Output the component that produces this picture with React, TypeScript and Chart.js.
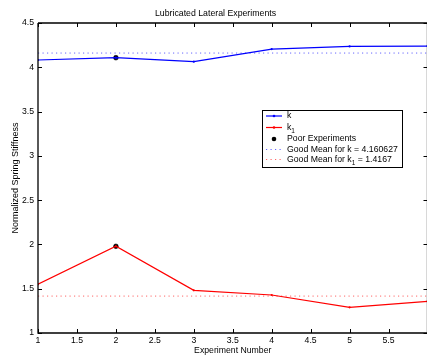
import React, { useEffect, useRef } from "react";
import { Chart, registerables } from "chart.js";

Chart.register(...registerables);

const experiments = [1, 2, 3, 4, 5, 6];
const kValues = [4.082, 4.108, 4.063, 4.206, 4.236, 4.24];
const k1Values = [1.55, 1.979, 1.482, 1.429, 1.29, 1.356];
const poorX = [2, 2];
const poorY = [4.108, 1.979];
const meanK = 4.160627;
const meanK1 = 1.4167;
const xTicks = [1, 1.5, 2, 2.5, 3, 3.5, 4, 4.5, 5, 5.5];
const yTicks = [1, 1.5, 2, 2.5, 3, 3.5, 4, 4.5];

const FONT = "'Liberation Sans', Arial, Helvetica, sans-serif";

const axesPlugin = {
  id: "matlabAxes",
  afterDatasetsDraw(chart: any) {
    const { ctx, chartArea, scales } = chart;
    const { left, right, top, bottom } = chartArea;
    ctx.save();
    ctx.strokeStyle = "#000";
    ctx.lineWidth = 1.3;
    ctx.beginPath();
    ctx.moveTo(left, top);
    ctx.lineTo(left, bottom);
    ctx.lineTo(right, bottom);
    ctx.lineTo(right, top);
    ctx.lineTo(left, top);
    ctx.stroke();
    ctx.lineWidth = 1;
    const tl = 4;
    ctx.beginPath();
    for (const v of xTicks) {
      const px = Math.round(scales.x.getPixelForValue(v)) + 0.5;
      ctx.moveTo(px, bottom);
      ctx.lineTo(px, bottom - tl);
      ctx.moveTo(px, top);
      ctx.lineTo(px, top + tl);
    }
    for (const v of yTicks) {
      const py = Math.round(scales.y.getPixelForValue(v)) + 0.5;
      ctx.moveTo(left, py);
      ctx.lineTo(left + tl, py);
      ctx.moveTo(right, py);
      ctx.lineTo(right - tl, py);
    }
    ctx.stroke();
    ctx.restore();
  },
};

function drawLabel(ctx: any, text: string, x: number, y: number) {
  const idx = text.indexOf("\u2081");
  ctx.font = `8.7px ${FONT}`;
  ctx.textBaseline = "middle";
  ctx.textAlign = "left";
  ctx.fillStyle = "#000";
  if (idx < 0) {
    ctx.fillText(text, x, y);
    return;
  }
  const before = text.slice(0, idx);
  const after = text.slice(idx + 1);
  ctx.fillText(before, x, y);
  let cx = x + ctx.measureText(before).width;
  ctx.font = `6.5px ${FONT}`;
  ctx.fillText("1", cx, y + 3.5);
  cx += ctx.measureText("1").width;
  ctx.font = `8.7px ${FONT}`;
  ctx.fillText(after, cx, y);
}

const legendPlugin = {
  id: "boxLegend",
  afterDraw(chart: any) {
    const { ctx } = chart;
    const bx = 262.5, by = 110.5, bw = 140, bh = 57;
    ctx.save();
    ctx.fillStyle = "#fff";
    ctx.fillRect(bx, by, bw, bh);
    ctx.strokeStyle = "#000";
    ctx.lineWidth = 1;
    ctx.strokeRect(bx, by, bw, bh);
    const ys = [116, 127.5, 139, 149.5, 159.5];
    chart.data.datasets.forEach((ds: any, i: number) => {
      const y = ys[i];
      const x0 = 266, x1 = 282, xm = 274;
      if (ds.showLine === false) {
        ctx.fillStyle = ds.pointBackgroundColor;
        ctx.beginPath();
        ctx.arc(xm, y, 2.3, 0, Math.PI * 2);
        ctx.fill();
      } else {
        ctx.strokeStyle = ds.borderColor;
        ctx.lineWidth = ds.borderWidth;
        ctx.setLineDash(ds.borderDash || []);
        ctx.beginPath();
        ctx.moveTo(x0, y);
        ctx.lineTo(x1, y);
        ctx.stroke();
        ctx.setLineDash([]);
        if (ds.pointRadius > 0) {
          ctx.fillStyle = ds.borderColor;
          ctx.beginPath();
          ctx.arc(xm, y, 1.3, 0, Math.PI * 2);
          ctx.fill();
        }
      }
      drawLabel(ctx, ds.label, 287, y);
    });
    ctx.restore();
  },
};

export default function App() {
  const ref = useRef<HTMLCanvasElement>(null);
  useEffect(() => {
    if (!ref.current) return;
    const chart = new Chart(ref.current, {
      type: "line",
      data: {
        datasets: [
          {
            label: "k",
            data: experiments.map((x, i) => ({ x, y: kValues[i] })),
            borderColor: "#0000ff",
            backgroundColor: "#0000ff",
            borderWidth: 1.2,
            pointRadius: 1.1,
            pointBorderWidth: 0,
            pointBackgroundColor: "#0000ff",
            fill: false,
          },
          {
            label: "k\u2081",
            data: experiments.map((x, i) => ({ x, y: k1Values[i] })),
            borderColor: "#ff0000",
            backgroundColor: "#ff0000",
            borderWidth: 1.2,
            pointRadius: 1.1,
            pointBorderWidth: 0,
            pointBackgroundColor: "#ff0000",
            fill: false,
          },
          {
            label: "Poor Experiments",
            data: poorX.map((x, i) => ({ x, y: poorY[i] })),
            showLine: false,
            borderColor: "#000",
            pointBackgroundColor: "#000",
            pointBorderColor: "#000",
            pointRadius: 2.4,
            pointBorderWidth: 0.5,
          },
          {
            label: "Good Mean for k = " + meanK,
            data: [{ x: 1, y: meanK }, { x: 6, y: meanK }],
            borderColor: "#6666ff",
            borderWidth: 1,
            borderDash: [1.2, 3.3],
            pointRadius: 0,
            fill: false,
          },
          {
            label: "Good Mean for k\u2081 = " + meanK1,
            data: [{ x: 1, y: meanK1 }, { x: 6, y: meanK1 }],
            borderColor: "#ff6666",
            borderWidth: 1,
            borderDash: [1.2, 3.3],
            pointRadius: 0,
            fill: false,
          },
        ],
      },
      options: {
        animation: false,
        responsive: false,
        devicePixelRatio: 1,
        layout: { padding: { top: 0, right: 1, left: 0, bottom: 0 } },
        plugins: {
          legend: { display: false },
          tooltip: { enabled: false },
          title: {
            display: true,
            text: "Lubricated Lateral Experiments",
            color: "#000",
            font: { family: FONT, size: 8.75, weight: "normal" },
            padding: { top: 8, bottom: 4.5 },
          },
        },
        scales: {
          x: {
            type: "linear",
            min: 1,
            max: 6,
            grid: { display: false, drawTicks: false },
            border: { display: false },
            afterBuildTicks: (s: any) => {
              s.ticks = xTicks.map((v) => ({ value: v }));
            },
            afterFit: (s: any) => {
              s.height = 28;
            },
            ticks: {
              color: "#000",
              font: { family: FONT, size: 8.7 },
              padding: 2,
              maxRotation: 0,
              autoSkip: false,
              callback: (v: any) => String(v),
            },
            title: {
              display: true,
              text: "Experiment Number",
              color: "#000",
              font: { family: FONT, size: 8.7 },
              padding: { top: 0, bottom: 5 },
            },
          },
          y: {
            type: "linear",
            min: 1,
            max: 4.5,
            grid: { display: false, drawTicks: false },
            border: { display: false },
            afterBuildTicks: (s: any) => {
              s.ticks = yTicks.map((v) => ({ value: v }));
            },
            afterFit: (s: any) => {
              s.width = 38;
            },
            ticks: {
              color: "#000",
              font: { family: FONT, size: 8.7 },
              padding: 4,
              autoSkip: false,
              callback: (v: any) => String(v),
            },
            title: {
              display: true,
              text: "Normalized Spring Stiffness",
              color: "#000",
              font: { family: FONT, size: 9 },
              padding: { top: 10, bottom: 0 },
            },
          },
        },
      },
      plugins: [axesPlugin, legendPlugin],
    } as any);
    return () => chart.destroy();
  }, []);

  return (
    <div
      style={{
        position: "fixed",
        left: 0,
        top: 0,
        width: 427,
        height: 361,
        overflow: "hidden",
        background: "#fff",
      }}
    >
      <canvas ref={ref} width={432} height={361} style={{ display: "block", width: 432, height: 361 }} />
    </div>
  );
}
